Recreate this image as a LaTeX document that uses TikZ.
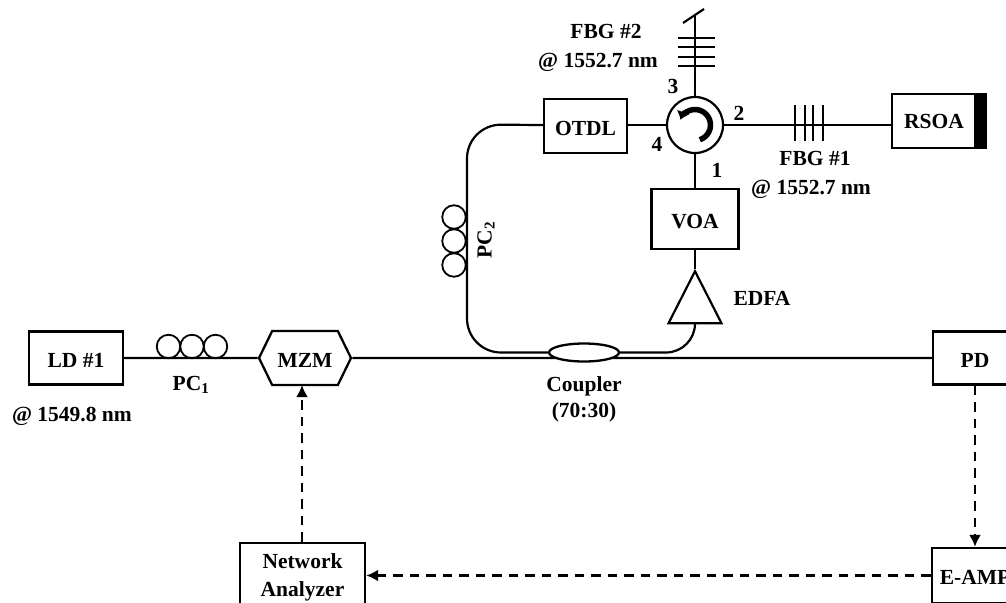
\documentclass[tikz,border=0pt]{standalone}
\usepackage{fontspec}
\setmainfont{Liberation Serif}
\usetikzlibrary{arrows.meta,positioning,shapes.geometric,shapes.symbols}
\tikzset{
  every node/.style={font=\bfseries\fontsize{21.5}{28}\selectfont,inner sep=0pt},
  box/.style={draw,line width=2.3pt,fill=white,align=center},
  tbox/.style={box,text height=18pt,text depth=0pt},
  fiber/.style={line width=2.2pt},
  coil/.style={draw,circle,line width=1.8pt,minimum size=23.5pt},
  sig/.style={line width=2.4pt,dash pattern=on 9.5pt off 7pt,-{Latex[length=12pt,width=12pt]}},
}
\begin{document}
\begin{tikzpicture}[x=1pt,y=-1pt,on grid]
\useasboundingbox (0,0) rectangle (1006,602);
\clip (0,0) rectangle (1006,602);
% lower row
\node[tbox,minimum width=94pt,minimum height=53pt](ld1) at (76,358){LD \#1};
\node[tbox,signal,signal to=east and west,signal pointer angle=128,minimum width=92pt,minimum height=54pt](mzm) [right=229pt of ld1]{MZM};
\node[tbox,minimum width=84pt,minimum height=53pt](pd) [right=670pt of mzm]{PD};
\node[tbox,minimum width=86pt,minimum height=55pt](eamp) [below=217.5pt of pd]{E-AMP};
\node[box,minimum width=125pt,minimum height=68pt](na) [left=672.5pt of eamp,yshift=-1.5pt]{Network\\Analyzer};
\path[fiber]
(ld1) edge (mzm)
(mzm) edge (pd);
\path[sig]
(pd) edge (eamp)
(eamp) edge (eamp -| na.east)
(na.north -| 302,0) edge (302,385);
% upper ring
\node[box,ellipse,minimum width=70pt,minimum height=18pt](coupler) [above right=5.5pt and 279pt of mzm]{};
\node[draw,circle,fiber,minimum size=56pt](circ) at (695,125){};
\node[tbox,minimum width=83pt,minimum height=54pt](otdl) [left=109.5pt of circ,yshift=-1pt]{OTDL};
\node[tbox,minimum width=87pt,minimum height=60pt](voa) [below=94pt of circ]{VOA};
\node[draw,fiber,isosceles triangle,isosceles triangle apex angle=54,shape border rotate=90,minimum height=52pt](edfa) [below=88pt of voa]{};
\node[coordinate](edfa_in) [below=56pt of edfa.apex]{};
\node[box,minimum width=94pt,minimum height=54pt,anchor=center](rsoa) at (939,121){RSOA\hspace{10pt}};
\fill ([xshift=-13pt]rsoa.north east) rectangle (rsoa.south east);
\coordinate (loop_t) at (467,124.5);
\coordinate (loop_b) at (467,352.5);
\coordinate (fbg2_end) at (695,16);
\draw[fiber,rounded corners=34pt] (otdl.west |- circ) -- (loop_t) -- (loop_b) -- (coupler.west);
\draw[fiber,rounded corners=29pt] (coupler.east) -| (edfa_in);
\path[fiber]
(circ) edge (circ -| otdl.east)
(circ) edge (circ -| rsoa.west)
(circ) edge (voa)
(circ) edge (fbg2_end)
(voa) edge (edfa.apex);
\draw[line width=5.5pt,-{Latex[length=8pt,width=14pt]}] ([shift={(-72:15.5pt)}]circ.center) arc[start angle=-72,end angle=160,radius=15.5pt];
% gratings
\draw[fiber] (683,23) -- (704,9);
\foreach \y in {38,47,57,66}
  \draw[fiber] (678,\y) -- (715,\y);
\foreach \x in {795,805,813,823}
  \draw[fiber] (\x,105) -- (\x,141);
% polarization controllers
\node[coil](c_11) at (168.5,346.5){};
\node[coil](c_12) [right=23.5pt of c_11]{};
\node[coil](c_13) [right=23.5pt of c_12]{};
\node[coil](c_21) at (454,217){};
\node[coil](c_22) [below=24pt of c_21]{};
\node[coil](c_23) [below=24pt of c_22]{};
% labels
\node(l_pc1) at (191,385){PC\textsubscript{1}};
\node[rotate=90](l_pc2) at (486,240){PC\textsubscript{2}};
\node(l_ld) at (72,416){@ 1549.8 nm};
\node(l_fbg2) at (606,31){FBG \#2};
\node(l_wl2) at (598,62){@ 1552.7 nm};
\node(l_fbg1) at (815,158){FBG \#1};
\node(l_wl1) at (811,189){@ 1552.7 nm};
\node(l_p1) at (717,170){1};
\node(l_p2) at (739,113){2};
\node(l_p3) at (673,86){3};
\node(l_p4) at (657,144){4};
\node(l_edfa) at (762,298){EDFA};
\node(l_cp) at (584,386){Coupler};
\node(l_ratio) [below=26pt of l_cp]{(70:30)};
\end{tikzpicture}
\end{document}
